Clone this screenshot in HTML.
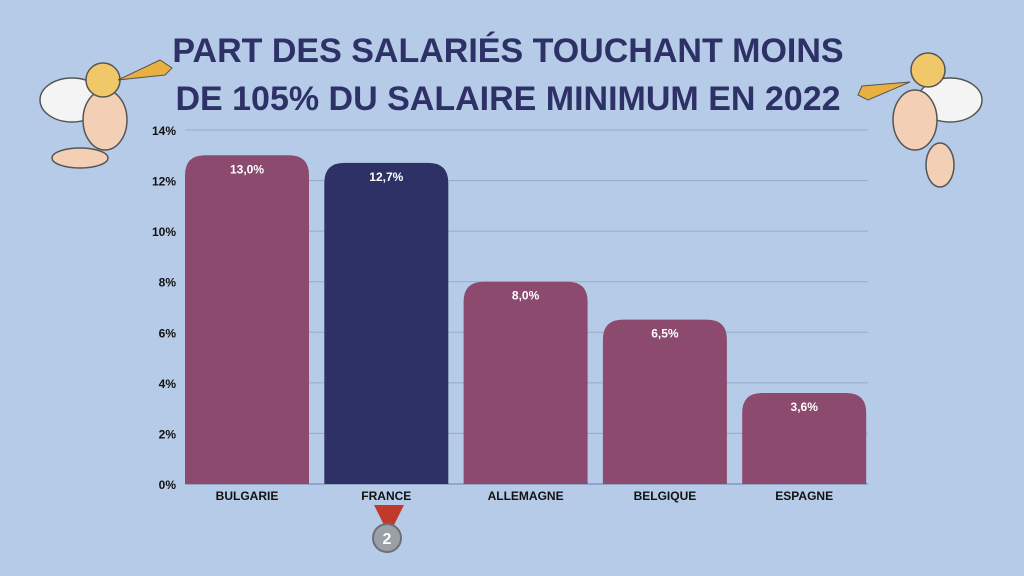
<!DOCTYPE html>
<html><head><meta charset="utf-8"><style>
body{margin:0;background:#b6cbe8;}
svg{display:block;font-family:"Liberation Sans",sans-serif;}
</style></head><body>
<svg id="chart" width="1024" height="576" viewBox="0 0 1024 576">
<rect width="1024" height="576" fill="#b6cbe8"/>
<text x="508" y="62" text-anchor="middle" font-size="34" font-weight="bold" fill="#2e3166">PART DES SALARIÉS TOUCHANT MOINS</text>
<text x="508" y="110" text-anchor="middle" font-size="34" font-weight="bold" fill="#2e3166">DE 105% DU SALAIRE MINIMUM EN 2022</text>
<g>
<ellipse cx="72" cy="100" rx="32" ry="22" fill="#f4f4f4" stroke="#555" stroke-width="1.5"/>
<ellipse cx="105" cy="120" rx="22" ry="30" fill="#f3cfb6" stroke="#555" stroke-width="1.5"/>
<circle cx="103" cy="80" r="17" fill="#f0c86a" stroke="#555" stroke-width="1.5"/>
<path d="M118 80 L160 60 L172 68 L165 75 Z" fill="#e8b040" stroke="#555"/>
<ellipse cx="80" cy="158" rx="28" ry="10" fill="#f3cfb6" stroke="#555" stroke-width="1.5"/>
</g>
<g>
<ellipse cx="950" cy="100" rx="32" ry="22" fill="#f4f4f4" stroke="#555" stroke-width="1.5"/>
<ellipse cx="915" cy="120" rx="22" ry="30" fill="#f3cfb6" stroke="#555" stroke-width="1.5"/>
<circle cx="928" cy="70" r="17" fill="#f0c86a" stroke="#555" stroke-width="1.5"/>
<path d="M910 82 L868 100 L858 95 L862 86 Z" fill="#e8b040" stroke="#555"/>
<ellipse cx="940" cy="165" rx="14" ry="22" fill="#f3cfb6" stroke="#555" stroke-width="1.5"/>
</g>
<g id="grid"></g><g id="bars"></g><g id="labels"></g>
<g>
<path d="M374 505 L384 525 L394 525 L404 505 Z" fill="#c0392b"/>
<circle cx="387" cy="538" r="14" fill="#9aa0a6" stroke="#6b7075" stroke-width="2"/>
<text x="387" y="544" text-anchor="middle" font-size="16" font-weight="bold" fill="#fff">2</text>
</g>
</svg>
<script>
const categories=["BULGARIE","FRANCE","ALLEMAGNE","BELGIQUE","ESPAGNE"];
const values=[13.0,12.7,8.0,6.5,3.6];
const valueLabels=["13,0%","12,7%","8,0%","6,5%","3,6%"];
const yTicks=[0,2,4,6,8,10,12,14];
const highlight=["FRANCE"];
const NS="http://www.w3.org/2000/svg";
const y0=484,y1=130,yMax=14,xL=185,step=139.3,bw=124;
const y=v=>y0-(v/yMax)*(y0-y1);
const x=i=>xL+i*step;
function el(t,a,p){const e=document.createElementNS(NS,t);for(const k in a)e.setAttribute(k,a[k]);p.appendChild(e);return e;}
const G=document.getElementById('grid'),B=document.getElementById('bars'),L=document.getElementById('labels');
yTicks.forEach(t=>{
 const l=el('line',{x1:xL,x2:868,y1:y(t),y2:y(t),stroke:t===0?'#6f7fa8':'#95a9cc','stroke-width':1},G);
 
 
 const tx=el('text',{x:176,y:y(t)+5,'text-anchor':'end','font-size':12,'font-weight':'bold',fill:'#111'},G);
 tx.textContent=t+'%';
 
 
});
categories.forEach((c,i)=>{
 const top=y(values[i]),h=y0-top,r=Math.min(20,h/2),xx=x(i);
 const p=el('path',{d:`M${xx} ${y0} L${xx} ${top+r} Q${xx} ${top} ${xx+r} ${top} L${xx+bw-r} ${top} Q${xx+bw} ${top} ${xx+bw} ${top+r} L${xx+bw} ${y0} Z`,fill:highlight.includes(c)?'#2e3166':'#8b4a6e'},B);
 
 
 const v=el('text',{x:xx+bw/2,y:top+18,'text-anchor':'middle','font-size':12,'font-weight':'bold',fill:'#fff'},L);
 v.textContent=valueLabels[i];
 
 
 const cl=el('text',{x:xx+bw/2,y:500,'text-anchor':'middle','font-size':12,'font-weight':'bold',fill:'#111'},L);
 cl.textContent=c;
 
 
});
</script>
</body></html>
